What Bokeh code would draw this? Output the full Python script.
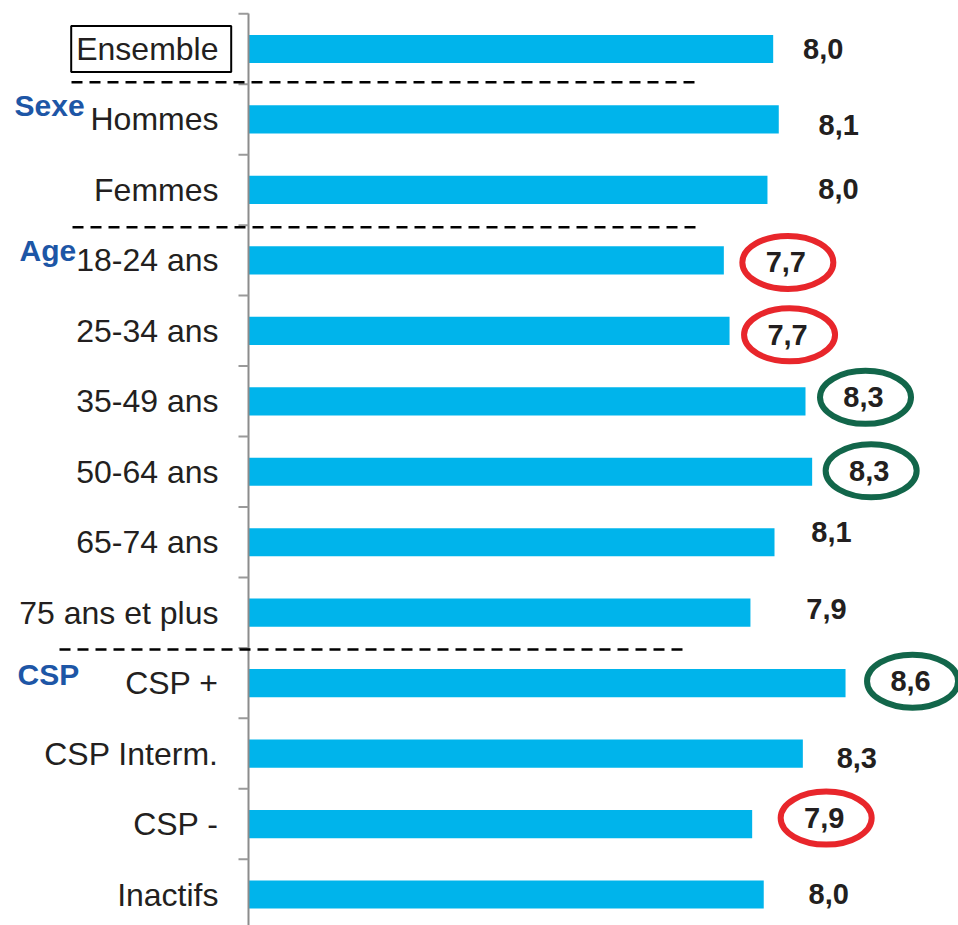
from bokeh.plotting import figure
from bokeh.models import Range1d, ColumnDataSource
from bokeh.core.properties import value
from bokeh.embed import file_html
from bokeh.resources import INLINE

# ---------------- data ----------------
categories = ["Ensemble", "Hommes", "Femmes", "18-24 ans", "25-34 ans", "35-49 ans",
              "50-64 ans", "65-74 ans", "75 ans et plus", "CSP +", "CSP Interm.",
              "CSP -", "Inactifs"]
scores = [8.045, 8.087, 8.002, 7.674, 7.717, 8.288, 8.338, 8.055, 7.874, 8.589,
          8.268, 7.887, 7.974]
score_labels = ["8,0", "8,1", "8,0", "7,7", "7,7", "8,3", "8,3", "8,1", "7,9", "8,6",
                "8,3", "7,9", "8,0"]
highlight = ["", "", "", "low", "low", "high", "high", "", "", "high", "", "low", ""]
group_names = ["Sexe", "Age", "CSP"]

# ---------------- layout / style ----------------
W, H = 958, 925
BASE = 4.1          # value at which the bars start (axis position)
K = 133.0           # pixels per unit on the value scale
SP = 70.46          # pixels per category band
AX_PX = 248         # axis position inside the frame (px)
Y0_PX = 48.5        # centre of first category inside the frame (px)

def dx(px):   # frame pixel -> value coordinate
    return BASE + (px - AX_PX) / K

def dy(py):   # frame pixel -> category coordinate
    return (py - Y0_PX) / SP

BAR = "#00b4eb"
TXT = "#231f20"
BLUE = "#1d56a6"
RED = "#e8262b"
GREEN = "#12664a"
FONT = "Liberation Sans"

p = figure(width=W, height=H, output_backend="svg", toolbar_location=None,
           x_range=Range1d(dx(0), dx(W)), y_range=Range1d(dy(H), dy(0)),
           min_border=0, outline_line_color=None)
p.xaxis.visible = False
p.yaxis.visible = False
p.xgrid.visible = False
p.ygrid.visible = False

n = len(categories)
idx = list(range(n))

# bars
src = ColumnDataSource(dict(y=idx, right=scores, cat=categories))
p.hbar(y="y", left=BASE, right="right", height=0.40, source=src,
       fill_color=BAR, line_color=None)

# axis line and boundary ticks
p.segment(x0=[BASE], y0=[dy(13)], x1=[BASE], y1=[dy(H)], line_color="#8c8c8c", line_width=2)
bounds = [i - 0.5 for i in range(n + 1)]
p.segment(x0=[dx(AX_PX - 10)] * len(bounds), y0=bounds, x1=[BASE] * len(bounds), y1=bounds,
          line_color="#9a9a9a", line_width=2)

# dashed separators
sep_y = [dy(81.7), dy(226.7), dy(649)]
sep_x0 = [dx(71), dx(72), dx(59)]
sep_x1 = [dx(698), dx(698), dx(685)]
p.segment(x0=sep_x0, y0=sep_y, x1=sep_x1, y1=sep_y, line_color="black",
          line_width=2.5, line_dash="11 7")

# category labels
p.text(x=[BASE] * n, y=idx, text=categories, x_offset=-30, text_align="right",
       text_baseline="middle", text_font=value(FONT), text_font_size="32px",
       text_color=TXT)

# Ensemble box
p.rect(x=[dx(150.7)], y=[0], width=160, height=46, width_units="screen",
       height_units="screen", fill_color=None, line_color="black", line_width=2)

# group labels
p.text(x=[dx(14), dx(19), dx(17)], y=[dy(105), dy(250), dy(674)], text=group_names,
       text_align="left", text_baseline="middle", text_font=value(FONT),
       text_font_size=["30px", "30px", "30px"], text_font_style="bold", text_color=BLUE)

# value labels (manual placement offsets in px)
label_dx = [50, 60, 71, 62, 58, 58, 57, 57, 76, 65, 54, 72, 65]
label_dy = [0, 6, -1, 2, 4, -4, -1, -10, -4, -2, 4, -6, -1]
lx = [s + d / K for s, d in zip(scores, label_dx)]
ly = [i + d / SP for i, d in zip(idx, label_dy)]
p.text(x=lx, y=ly, text=score_labels, text_align="center", text_baseline="middle",
       text_font=value(FONT), text_font_size="29px", text_font_style="bold",
       text_color=TXT)

# highlight ellipses
ex, ey, ec = [], [], []
for x, y, h in zip(lx, ly, highlight):
    if h:
        ex.append(x + 2 / K)
        ey.append(y)
        ec.append(RED if h == "low" else GREEN)
p.ellipse(x=ex, y=ey, width=91, height=53, width_units="screen", height_units="screen",
          fill_color=None, line_color=ec, line_width=6)

open("out.html", "w").write(file_html(p, INLINE))
